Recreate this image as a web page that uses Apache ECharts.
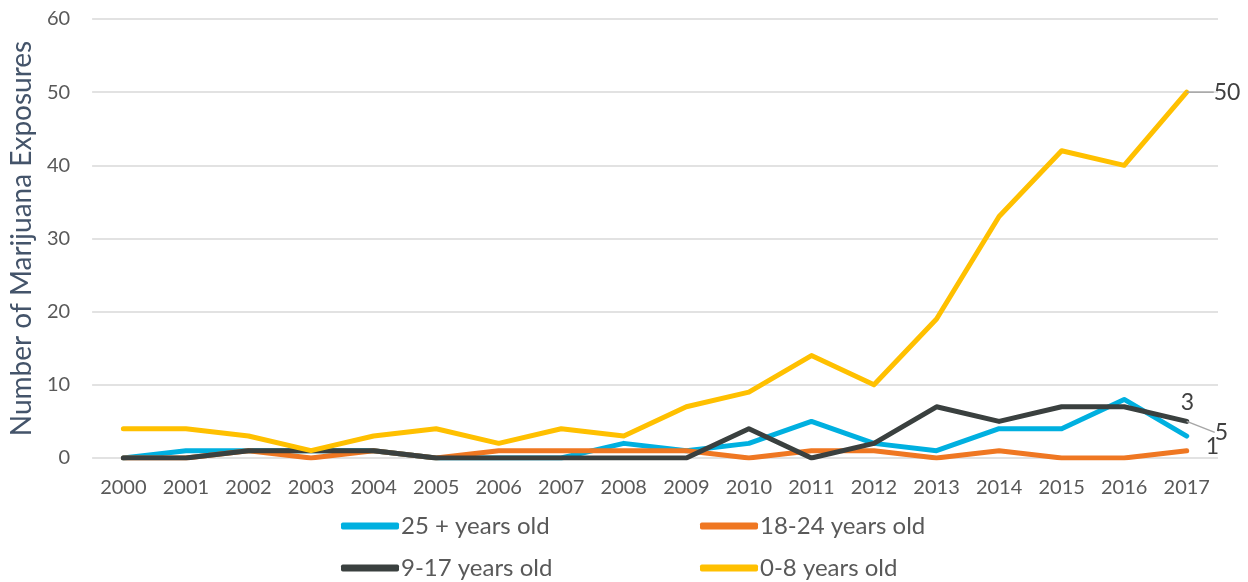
<!DOCTYPE html>
<html><head><meta charset="utf-8">
<script src="https://cdn.jsdelivr.net/npm/echarts@6/dist/echarts.min.js"></script>
<style>html,body{margin:0;padding:0;background:#fff}#c{width:1248px;height:582px}</style>
</head><body><div id="c"></div>
<script>
var years = ['2000','2001','2002','2003','2004','2005','2006','2007','2008','2009','2010','2011','2012','2013','2014','2015','2016','2017'];
var age25plus = [0,1,1,1,1,0,0,0,2,1,2,5,2,1,4,4,8,3];
var age18to24 = [0,0,1,0,1,0,1,1,1,1,0,1,1,0,1,0,0,1];
var age9to17  = [0,0,1,1,1,0,0,0,0,0,4,0,2,7,5,7,7,5];
var age0to8   = [4,4,3,1,3,4,2,4,3,7,9,14,10,19,33,42,40,50];
var seriesNames = ['25 + years old','18-24 years old','9-17 years old','0-8 years old'];
var yTicks = {min:0, max:60, interval:10};

var colors = ['#00b0e0','#ef7722','#3a403f','#ffc000'];
var lblFont = {fontFamily:'Lato', fontSize:23, color:'#404040'};

function withEndLabel(arr) {
  return arr.map(function(v, i){
    if (i !== arr.length - 1) return {value: v, label:{show:false}};
    return {value: v, label: Object.assign({show:true, position:'right', distance:0, formatter:'{c}'}, lblFont)};
  });
}

var allData = [age25plus, age18to24, age9to17, age0to8];
var layouts = [
  {dx:-6, dy:-33},
  {dx:19, dy:-4},
  {dx:28, dy:11},
  {dx:27, dy:0}
];
var lineShows = [false, false, true, true];

var series = allData.map(function(arr, k){
  return {
    name: seriesNames[k], type:'line', symbol:'circle', symbolSize:0.01, showSymbol:true,
    data: withEndLabel(arr),
    labelLayout: layouts[k],
    labelLine: {show: lineShows[k], length2:0, smooth:0.3, lineStyle:{color:'#a6a6a6', width:1.5}},
    lineStyle:{width:5, color:colors[k], cap:'round', join:'round'},
    itemStyle:{color:colors[k]},
    emphasis:{disabled:true}, animation:false
  };
});

var legendPos = [[336,509],[695,509],[336,551],[695,551]];
var legends = seriesNames.map(function(n, k){
  return {data:[n], left:legendPos[k][0], top:legendPos[k][1], icon:'roundRect',
    itemWidth:58, itemHeight:7, itemGap:6, selectedMode:false,
    textStyle:{fontFamily:'Lato', fontSize:24, color:'#595959', padding:[0,0,0,-3]}};
});

var chart = echarts.init(document.getElementById('c'), null, {renderer:'canvas'});
chart.setOption({
  animation:false,
  color: colors,
  grid:{left:91, right:30, top:19, bottom:124},
  legend: legends,
  xAxis:{type:'category', data:years, boundaryGap:true,
    axisLine:{show:false}, axisTick:{show:false},
    axisLabel:{fontFamily:'Lato', fontSize:20, color:'#595959', margin:20}},
  yAxis:{type:'value', min:yTicks.min, max:yTicks.max, interval:yTicks.interval,
    name:'Number of Marijuana Exposures', nameLocation:'middle', nameGap:55,
    nameTextStyle:{fontFamily:'Lato', fontSize:28, color:'#44546a'},
    axisLine:{show:false}, axisTick:{show:false},
    axisLabel:{fontFamily:'Lato', fontSize:20, color:'#595959', margin:22},
    splitLine:{lineStyle:{color:'#d9d9d9', width:1.5}}},
  series: series
});
</script></body></html>
